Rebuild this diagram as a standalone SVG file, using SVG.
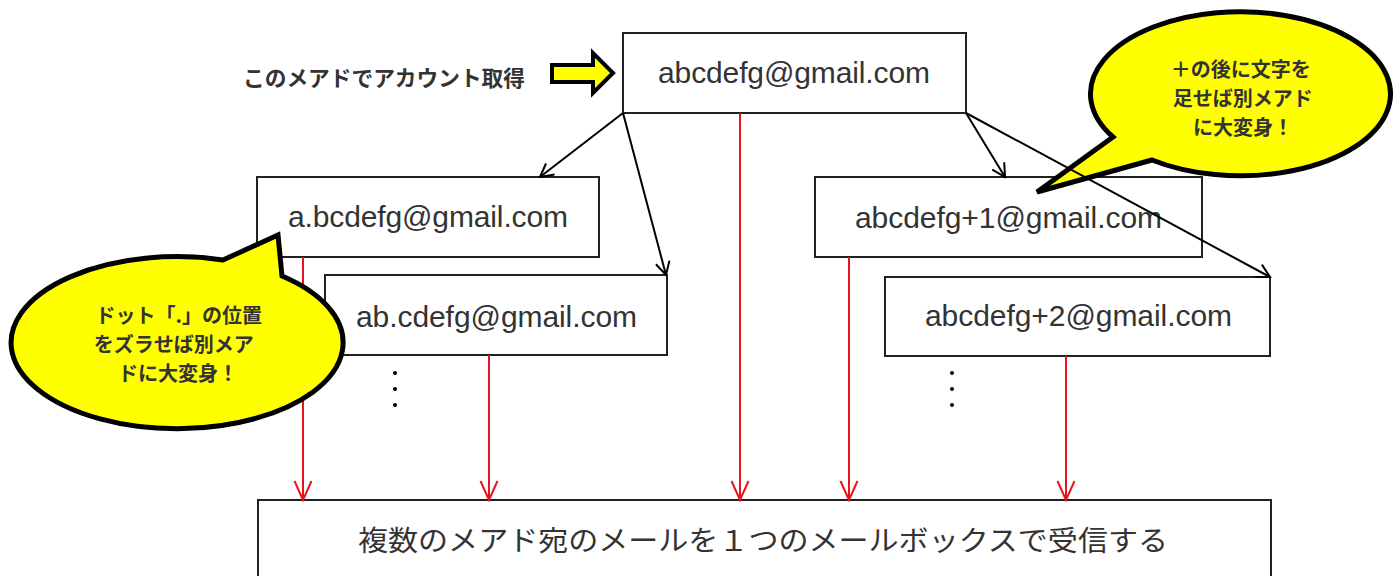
<svg xmlns="http://www.w3.org/2000/svg" width="1394" height="576" viewBox="0 0 1394 576">
<style>
.box{fill:#fff;stroke:#222;stroke-width:2}
.mail{font-family:"Liberation Sans",Arial,sans-serif;font-size:30px;fill:#333}
.jp{font-family:"Noto Sans CJK JP","Noto Sans",sans-serif;fill:#333}
.bold{font-weight:bold}
.bubble{fill:#ffff00;stroke:#000;stroke-width:5;stroke-linejoin:miter}
.blk{stroke:#000;stroke-width:2;fill:none}
.red{stroke:#e8141b;stroke-width:2;fill:none}
</style>
<defs>
<marker id="ab" markerUnits="userSpaceOnUse" markerWidth="16" markerHeight="16" refX="14" refY="8" orient="auto">
<path d="M1,1 L14,8 L1,15" fill="none" stroke="#000" stroke-width="2"/>
</marker>
<marker id="ar" markerUnits="userSpaceOnUse" markerWidth="22" markerHeight="20" refX="20" refY="10" orient="auto">
<path d="M1,1.5 L20,10 L1,18.5" fill="none" stroke="#e8141b" stroke-width="2"/>
</marker>
</defs>
<rect width="1394" height="576" fill="#fff"/>

<g id="label-top">
<text class="jp bold" x="243" y="86" font-size="21.5" textLength="282" lengthAdjust="spacingAndGlyphs">このメアドでアカウント取得</text>
<polygon points="552,65 593,65 593,53 613,73 593,93 593,82 552,82" fill="#ffff00" stroke="#000" stroke-width="4"/>
</g>

<g id="node-main">
<rect class="box" x="623" y="33" width="343" height="80"/>
<text class="mail" x="658" y="83" textLength="272">abcdefg@gmail.com</text>
</g>
<g id="node-dot1">
<rect class="box" x="257" y="177" width="342" height="80"/>
<text class="mail" x="288" y="227" textLength="280">a.bcdefg@gmail.com</text>
</g>
<g id="node-dot2">
<rect class="box" x="325" y="275" width="342" height="80"/>
<text class="mail" x="356" y="327" textLength="281">ab.cdefg@gmail.com</text>
<circle cx="395" cy="373" r="2"/>
<circle cx="395" cy="389" r="2"/>
<circle cx="395" cy="405" r="2"/>
</g>
<g id="node-plus1">
<rect class="box" x="815" y="177" width="387" height="80"/>
<text class="mail" x="855" y="228" textLength="307">abcdefg+1@gmail.com</text>
</g>
<g id="node-plus2">
<rect class="box" x="885" y="277" width="385" height="79"/>
<text class="mail" x="925" y="326" textLength="307">abcdefg+2@gmail.com</text>
<circle cx="952" cy="373" r="2"/>
<circle cx="952" cy="389" r="2"/>
<circle cx="952" cy="405" r="2"/>
</g>
<g id="node-inbox">
<rect class="box" x="258" y="500" width="1013" height="90"/>
<text class="jp" x="358" y="551" font-size="28" textLength="810" lengthAdjust="spacingAndGlyphs">複数のメアド宛のメールを１つのメールボックスで受信する</text>
</g>

<g id="bubble-plus">
<path class="bubble" d="M1113,137 L1037,192 L1152,160 A150 82 0 1 0 1113,137 Z"/>
<text class="jp bold" text-anchor="middle" font-size="20">
<tspan x="1243" y="77">＋の後に文字を</tspan>
<tspan x="1245" y="106">足せば別メアド</tspan>
<tspan x="1243" y="135">に大変身！</tspan>
</text>
</g>

<g id="connectors">
<line class="blk" x1="623" y1="113" x2="540" y2="177" marker-end="url(#ab)"/>
<line class="blk" x1="623" y1="113" x2="666" y2="275" marker-end="url(#ab)"/>
<line class="blk" x1="966" y1="113" x2="1005" y2="177" marker-end="url(#ab)"/>
<line class="blk" x1="966" y1="113" x2="1270" y2="277" marker-end="url(#ab)"/>
<line class="red" x1="303" y1="257" x2="303" y2="500" marker-end="url(#ar)"/>
<line class="red" x1="489" y1="355" x2="489" y2="500" marker-end="url(#ar)"/>
<line class="red" x1="740" y1="113" x2="740" y2="500" marker-end="url(#ar)"/>
<line class="red" x1="849" y1="257" x2="849" y2="500" marker-end="url(#ar)"/>
<line class="red" x1="1066" y1="356" x2="1066" y2="500" marker-end="url(#ar)"/>
</g>

<g id="bubble-dot">
<path class="bubble" d="M223,260 L278,235 L282,276 A166 86 0 1 1 223,260 Z"/>
<text class="jp bold" text-anchor="middle" font-size="20">
<tspan x="181" y="323">ドット「.」の位置</tspan>
<tspan x="176" y="352">をズラせば別メア</tspan>
<tspan x="178" y="381">ドに大変身！</tspan>
</text>
</g>
</svg>
